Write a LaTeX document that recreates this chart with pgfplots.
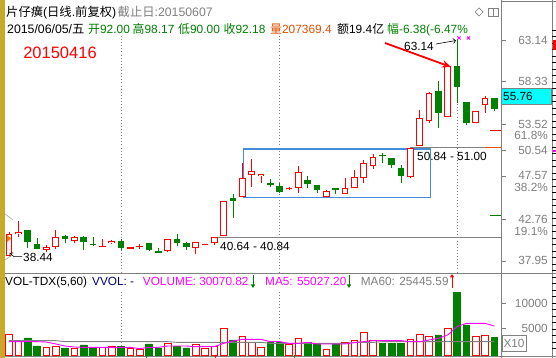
\documentclass[border=0pt]{standalone}
\usepackage{pgfplots}
\pgfplotsset{compat=1.18}
\usepackage{pgfplotstable}
\usepackage{fontspec}
\setmainfont{Liberation Sans}
\newfontfamily\cjk{Noto Sans CJK SC}
\usetikzlibrary{arrows.meta}
\definecolor{cred}{RGB}{255,0,0}
\definecolor{cgreen}{RGB}{0,128,0}
\definecolor{cgray}{RGB}{128,128,128}
\definecolor{cmag}{RGB}{255,0,255}
\definecolor{corange}{RGB}{224,80,0}
\definecolor{cnavy}{RGB}{0,0,128}
\definecolor{cbox}{RGB}{70,140,220}
\definecolor{ccyan}{RGB}{0,255,255}
\definecolor{cyell}{RGB}{200,170,40}
\newcommand\hd{\fontsize{12.3}{13}\selectfont}
\newcommand\hdb{\fontsize{11.9}{13}\selectfont}
\newcommand\lab{\fontsize{11.8}{12}\selectfont}

% n O H L C V  (rising days)
\pgfplotstableread{
n O H L C V
1 38.50 41.20 38.44 40.96 4200
2 40.96 42.51 40.69 41.19 2870
5 39.18 39.74 38.91 39.48 1530
6 39.48 41.45 39.26 40.69 1800
8 40.23 40.77 39.94 40.62 1400
11 39.55 40.39 39.48 39.67 1530
12 39.94 40.31 39.86 40.20 1800
14 39.32 39.55 39.28 39.52 1400
15 39.48 39.86 39.26 39.63 1200
18 39.06 40.39 38.91 40.39 2330
21 39.37 40.05 38.69 40.05 2200
22 39.71 39.89 39.71 39.89 1330
23 39.94 40.65 39.70 40.62 1800
24 40.77 44.74 40.77 44.74 5330
26 45.23 49.03 45.23 47.32 3800
27 47.66 49.52 46.37 48.15 2470
28 47.62 47.85 46.82 47.85 1530
31 46.07 46.33 45.99 46.26 2200
32 46.26 48.72 45.69 48.01 3330
35 45.23 45.99 45.23 45.88 1130
37 45.51 47.39 45.51 46.19 2470
38 46.19 48.27 46.19 47.44 3000
39 47.32 49.40 46.82 49.10 4530
40 48.76 50.05 48.35 49.71 2870
44 47.44 50.73 47.32 50.73 3130
45 50.99 55.09 50.99 54.14 4200
46 53.87 57.17 53.64 56.98 3800
48 54.32 60.09 54.32 60.09 5330
51 53.57 54.97 53.57 54.97 3800
52 55.65 56.68 54.71 56.41 4000
}\redtab
% falling days
\pgfplotstableread{
n O H L C V
3 41.45 41.45 39.37 40.05 3400
4 39.82 40.51 39.26 39.26 1800
7 40.77 40.88 39.94 40.39 1400
9 40.62 40.77 39.18 40.05 2000
10 39.90 40.62 39.63 39.78 1530
13 40.20 40.39 39.18 39.37 1670
16 39.94 39.94 39.10 39.18 2200
17 39.06 39.37 38.80 38.87 1400
19 40.43 40.96 39.63 40.01 1670
20 39.94 40.05 39.18 39.55 1400
25 45.05 45.54 42.85 44.78 3000
29 46.79 47.21 46.37 46.53 2600
30 46.45 46.76 45.69 45.80 2600
33 47.13 47.59 46.19 46.68 2470
34 46.56 46.56 45.62 45.99 2330
36 46.19 46.19 45.51 46.05 2200
41 49.94 50.23 49.10 49.82 2330
42 49.60 49.60 48.53 48.84 2330
43 48.46 48.84 46.82 47.62 2330
47 57.24 58.38 53.07 54.71 4000
49 60.09 63.14 55.85 57.73 12470
50 55.96 55.96 53.38 53.57 6000
53 56.41 56.41 55.01 55.20 3470
}\greentab

\begin{document}
\begin{tikzpicture}[x=1pt,y=1pt]
\useasboundingbox (0,0) rectangle (556,358);
\clip (0,0) rectangle (556,358);
\fill[white] (0,0) rectangle (556,358);
\fill[cyell] (0,0) rectangle (5,358);

% frame lines
\draw[cgray, line width=0.9pt] (501,0) -- (501,358);
\draw[cgray, line width=0.9pt] (552,0) -- (552,358);
\draw[cgray, line width=0.9pt] (5,85) -- (556,85);
\draw[cgray, line width=0.9pt] (5,2) -- (556,2);
\draw[cgray, line width=0.9pt] (501,356.3) -- (556,356.3);

% dotted month lines
\foreach \xx in {121.0,279.7,457.0}{
  \draw[cgray, line width=0.8pt, dash pattern=on 0.9pt off 2.2pt] (\xx,322) -- (\xx,86);
  \draw[cgray, line width=0.8pt, dash pattern=on 0.9pt off 2.2pt] (\xx,66) -- (\xx,3);
}

% ---------------- price panel ----------------
\begin{axis}[at={(0pt,85pt)}, anchor=south west, scale only axis,
  width=501pt, height=238pt, xmin=0.0357, xmax=53.714,
  ymin=36.5625, ymax=63.608, axis lines=none, clip=false]
% reference lines
\draw[cgray, line width=0.9pt] (axis cs:23.3,40.64) -- (axis cs:53.714,40.64);
\draw[cgray, line width=0.9pt] (axis cs:44.0,50.84) -- (axis cs:53.714,50.84);
\draw[corange, line width=0.9pt] (axis cs:52.0,50.84) -- (axis cs:53.714,50.84);
\draw[cred, line width=0.9pt] (axis cs:52.5,52.73) -- (axis cs:53.714,52.73);
\draw[cgreen, line width=0.9pt] (axis cs:52.5,43.15) -- (axis cs:53.714,43.15);
\draw[cbox, line width=1.1pt] (axis cs:26.1,45.17) rectangle (axis cs:46.18,50.65);
% green candles
\addplot[draw=none, mark=none, forget plot, error bars/.cd, y dir=plus, y explicit,
  error mark=none, error bar style={draw=cgreen, line width=1pt}]
  table[x=n, y=L, y error expr=\thisrow{H}-\thisrow{L}] {\greentab};
\addplot[draw=none, mark=none, forget plot, error bars/.cd, y dir=plus, y explicit,
  error mark=none, error bar style={draw=cgreen, line width=6.6pt}]
  table[x=n, y=C, y error expr=\thisrow{O}-\thisrow{C}] {\greentab};
% red candles
\addplot[draw=none, mark=none, forget plot, error bars/.cd, y dir=plus, y explicit,
  error mark=none, error bar style={draw=cred, line width=1pt}]
  table[x=n, y=L, y error expr=\thisrow{H}-\thisrow{L}] {\redtab};
\addplot[draw=none, mark=none, forget plot, error bars/.cd, y dir=plus, y explicit,
  error mark=none, error bar style={draw=cred, line width=6.6pt}]
  table[x=n, y=O, y error expr=\thisrow{C}-\thisrow{O}] {\redtab};
\addplot[draw=none, mark=none, forget plot, error bars/.cd, y dir=plus, y explicit,
  error mark=none, error bar style={draw=white, line width=4.8pt}]
  table[x=n, y expr={\thisrow{O}+0.11}, y error expr={max(\thisrow{C}-\thisrow{O}-0.22,0)}] {\redtab};
\end{axis}

% ---------------- volume panel ----------------
\begin{axis}[at={(0pt,2pt)}, anchor=south west, scale only axis,
  width=501pt, height=83pt, xmin=0.0357, xmax=53.714,
  ymin=-200, ymax=16400, axis lines=none, clip=false]
\addplot[ybar, bar width=6.6pt, bar shift=0pt, draw=cred, fill=white, line width=0.9pt]
  table[x=n, y=V] {\redtab};
\addplot[ybar, bar width=6.6pt, bar shift=0pt, draw=cgreen, fill=cgreen, line width=0.5pt]
  table[x=n, y=V] {\greentab};
\addplot[cgray, line width=0.9pt, mark=none] coordinates {
(1,2870)(6,2870)(7,2670)(18,2670)(19,2530)(28,2530)(29,2330)(37,2330)(38,2530)(40,2530)(41,2670)(53,2670)};
\addplot[cmag, line width=0.9pt, mark=none] coordinates {
(1,2670)(2,2670)(3,2670)(4,2670)(5,2600)(6,2200)(7,1800)(8,1600)(9,1530)(10,1530)
(11,1530)(12,1530)(13,1530)(14,1530)(15,1270)(16,1530)(17,1530)(18,1800)(19,1800)(20,1800)
(21,1670)(22,1670)(23,1670)(24,2330)(25,2800)(26,3130)(27,3130)(28,3130)(29,2670)(30,2670)
(31,2330)(32,2330)(33,2530)(34,2200)(35,2200)(36,2200)(37,2200)(38,2470)(39,2670)(40,2870)
(41,2870)(42,2870)(43,2870)(44,2670)(45,2670)(46,3000)(47,3330)(48,4000)(49,5670)(50,6330)
(51,6330)(52,6330)(53,5800)};
\end{axis}

% signal ticks under volume
\draw[cgreen, line width=0.9pt] (146.7,3) -- (146.7,0);
\draw[cred, line width=0.9pt] (215.7,3) -- (215.7,0);
\draw[cgreen, line width=0.9pt] (294.3,3) -- (294.3,0);

% ---------------- header ----------------
\node[anchor=base west, inner sep=0] at (6,341.3) {\hd{\cjk 片仔癀}({\cjk 日线}.{\cjk 前复权})};
\node[anchor=base west, inner sep=0, text=cgray] at (117.5,341.3) {\hd{\cjk 截止日}:20150607};
\node[anchor=base west, inner sep=0] at (7,324.7) {\hd 2015/06/05/{\cjk 五}};
\node[anchor=base west, inner sep=0, text=cgreen] at (88,324.7) {\hdb{\cjk 开}92.00};
\node[anchor=base west, inner sep=0, text=cgreen] at (132.5,324.7) {\hdb{\cjk 高}98.17};
\node[anchor=base west, inner sep=0, text=cgreen] at (178,324.7) {\hdb{\cjk 低}90.00};
\node[anchor=base west, inner sep=0, text=cgreen] at (223.5,324.7) {\hdb{\cjk 收}92.18};
\node[anchor=base west, inner sep=0, text=corange] at (270,324.7) {\hdb{\cjk 量}207369.4};
\node[anchor=base west, inner sep=0] at (337,324.7) {\hdb{\cjk 额}19.4{\cjk 亿}};
\node[anchor=base west, inner sep=0, text=cgreen] at (387,324.7) {\hdb{\cjk 幅}-6.38(-6.47\%};
% icons
\draw[cgray, line width=0.7pt] (479,350) -- (483,346) -- (479,342) -- (475,346) -- cycle;
\draw[cgray, line width=0.7pt] (488,350) rectangle (498,342);
\draw[cgray, line width=0.7pt] (493,350) -- (493,342);

\node[text=cred, inner sep=0] at (60,305) {\fontsize{16.5}{17}\selectfont 20150416};

% annotations
\draw[cred, line width=1.8pt, -{Stealth[length=9pt,width=7.5pt]}] (385,315) -- (451,291);
\node[inner sep=0] at (419,312) {\lab 63.14};
\draw[line width=0.6pt, -{Straight Barb[length=2.5pt]}] (436,314) -- (456,317.5);
\draw[cmag, line width=0.8pt] (457.5,321.5) -- (460.5,318.5) (457.5,318.5) -- (460.5,321.5);
\draw[cmag, line width=0.8pt] (467,321.5) -- (470,318.5) (467,318.5) -- (470,321.5);
\node[inner sep=0] at (255,112) {\lab 40.64 - 40.84};
\node[inner sep=0] at (452,201.3) {\lab 50.84 - 51.00};
\node[anchor=west, inner sep=0] at (23,100.5) {\lab 38.44};
\draw[line width=0.6pt, -{Straight Barb[length=2.5pt]}] (22,101.3) -- (14,101.3) -- (9.5,105);
\fill[orange] (7,123) -- (11,119.5) -- (7,116) -- cycle;
\draw[cgray!70, line width=0.6pt] (5,144) -- (13,138);
\draw[cgray!70, line width=0.6pt] (5,98) -- (12,103);

% right price scale
\foreach \yy/\tt in {318/63.14, 276.5/58.33, 234/53.52, 223/61.8\%, 208/50.54, 182/47.57, 171/38.2\%, 139/42.76, 127/19.1\%, 97.5/37.95, 55/10000, 30/5000}{
  \node[anchor=east, inner sep=0, text=cgray] at (548,\yy) {\lab \tt};
}
\foreach \yy in {318,277,234,208,182,139,97,55,30}{
  \draw[cgray, line width=0.9pt] (501,\yy) -- (506,\yy);
}
\fill[ccyan] (501.5,270) rectangle (551.5,254);
\draw[cgray, line width=0.6pt] (501.5,270) rectangle (551.5,254);
\node[anchor=west, inner sep=0] at (503,262) {\lab 55.76};
\draw[cgray, line width=0.8pt] (502,23) rectangle (526,7);
\node[inner sep=0, text=cgray] at (514,15) {\lab X10};
\foreach \k in {0,...,49}{
  \draw[black, line width=0.6pt] (552,{328-6.5*\k}) -- (556,{328-6.5*\k});
}
\fill[cred] (553,318) rectangle (556,308);
\fill[cmag] (553,208) rectangle (556,206);

% volume header
\node[anchor=base west, inner sep=0] at (5,72) {\lab VOL-TDX(5,60)};
\node[anchor=base west, inner sep=0, text=cnavy] at (92,72) {\lab VVOL: -};
\node[anchor=base west, inner sep=0, text=cmag] at (142.7,72) {\lab VOLUME: 30070.82};
\node[anchor=base west, inner sep=0, text=cmag] at (265,72) {\lab MA5: 55027.20};
\node[anchor=base west, inner sep=0, text=cgray] at (360.7,72) {\lab MA60: 25445.59};
\draw[cgreen, line width=0.9pt, -{Triangle[length=3.5pt,width=4pt]}] (253,83) -- (253,70);
\draw[cgreen, line width=0.9pt, -{Triangle[length=3.5pt,width=4pt]}] (349,83) -- (349,70);
\draw[cred, line width=0.9pt, -{Triangle[length=3.5pt,width=4pt]}] (452,70) -- (452,84);
\end{tikzpicture}
\end{document}
